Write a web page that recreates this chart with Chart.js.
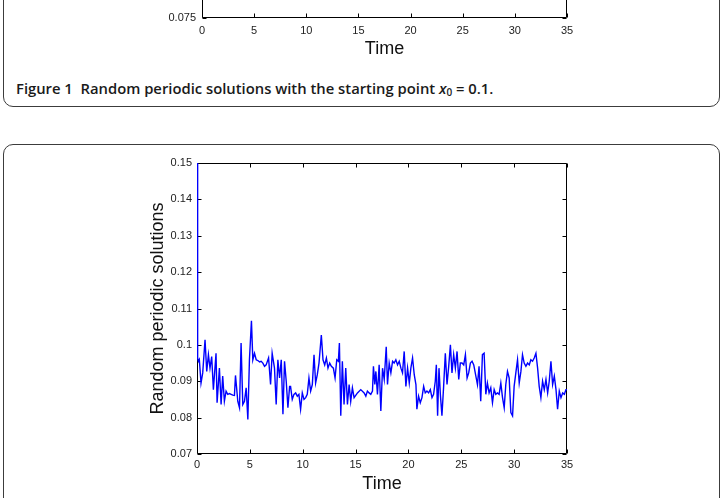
<!DOCTYPE html>
<html>
<head>
<meta charset="utf-8">
<script src="https://cdn.jsdelivr.net/npm/chart.js@4.4.0/dist/chart.umd.min.js"></script>
<style>
html, body { margin: 0; padding: 0; background: #fff; }
body { width: 723px; height: 498px; position: relative; overflow: hidden; }
.panel { position: absolute; left: 3px; width: 715px; border: 1px solid #3c3c3c; border-radius: 10px; }
#panelTop { top: -20px; height: 125px; }
#panelBottom { top: 144px; height: 400px; }
.caption { position: absolute; left: 16px; top: 79px; font-family: 'Open Sans'; font-weight: 600; font-size: 14.8px; line-height: 18px; color: #1a1a1a; white-space: nowrap; }
.caption sub { font-size: 10px; vertical-align: -2px; }
canvas { position: absolute; left: 0; }
#topChart { top: -282px; }
#mainChart { top: 0; }
</style>
</head>
<body>
<div class="panel" id="panelTop"></div>
<div class="panel" id="panelBottom"></div>
<div class="caption">Figure 1&nbsp;&nbsp;Random periodic solutions with the starting point <i>x</i><sub>0</sub> = 0.1.</div>
<canvas id="topChart" width="723" height="400"></canvas>
<canvas id="mainChart" width="723" height="498"></canvas>
<script>
// tick positions and labels
const xTicks = [0, 5, 10, 15, 20, 25, 30, 35]
const xTickLabels = ['0', '5', '10', '15', '20', '25', '30', '35']
const yTicks = [0.07, 0.08, 0.09, 0.1, 0.11, 0.12, 0.13, 0.14, 0.15]
const yTickLabels = ['0.07', '0.08', '0.09', '0.1', '0.11', '0.12', '0.13', '0.14', '0.15']
const topYTicks = [0.075]
const topYTickLabels = ['0.075']

// random periodic solution (starting point 0.15)
const times = [
	0, 0.06, 0.13, 0.22, 0.38, 0.54, 0.76, 0.92, 1.08, 1.23, 1.39, 1.55, 1.80, 1.90, 2.12, 2.28, 2.43, 2.59, 2.75, 2.91,
	3.07, 3.23, 3.39, 3.54, 3.64, 3.86, 4.02, 4.17, 4.33, 4.49, 4.65, 4.81, 4.96, 5.15, 5.28, 5.44, 5.60, 5.76, 5.92, 6.07,
	6.23, 6.39, 6.54, 6.77, 6.96, 7.11, 7.33, 7.49, 7.65, 7.81, 7.97, 8.13, 8.28, 8.44, 8.60, 8.76,
	8.85, 9.01, 9.17, 9.33, 9.49, 9.64, 9.80, 9.96, 10.12, 10.28, 10.43, 10.59, 10.75, 10.91, 11.07, 11.22, 11.38, 11.54, 11.76, 11.92,
	12.08, 12.24, 12.39, 12.55, 12.71, 12.90, 13.06, 13.22, 13.37, 13.47, 13.60, 13.75, 13.91, 14.07, 14.23, 14.39, 14.54, 14.70, 14.86, 15.18,
	15.49, 15.81, 15.97, 16.12, 16.28, 16.44, 16.60, 16.69, 16.82, 16.92, 17.07, 17.23, 17.39, 17.55, 17.71,
	17.90, 18.02, 18.18, 18.34, 18.50, 18.65, 18.81, 18.97, 19.13, 19.29, 19.44, 19.60, 19.76, 19.92, 20.08, 20.23, 20.39, 20.55, 20.71, 20.80,
	20.96, 21.12, 21.28, 21.44, 21.59, 21.75, 21.91, 22.07, 22.23, 22.38, 22.54, 22.64, 22.76, 22.89, 23.02, 23.17, 23.33, 23.49, 23.65, 23.81,
	23.97, 24.12, 24.28, 24.44, 24.60, 24.76, 24.91, 25.07, 25.23, 25.39, 25.55, 25.70, 25.86, 26.02, 26.18,
	26.53, 26.68, 26.84, 27.00, 27.16, 27.32, 27.47, 27.63, 27.79, 27.95, 28.11, 28.26, 28.42, 28.58, 28.74, 28.90, 29.06, 29.21, 29.37, 29.53,
	29.69, 29.85, 30.00, 30.16, 30.32, 30.48, 30.64, 30.79, 30.95, 31.11, 31.27, 31.43, 31.58, 31.74, 31.90, 32.06, 32.22, 32.37, 32.53, 32.69,
	32.85, 33.01, 33.17, 33.32, 33.48, 33.64, 33.80, 33.96, 34.11, 34.27, 34.43, 34.59, 34.75, 34.90, 35
]
const values = [
	0.15, 0.0964, 0.0955, 0.0960, 0.0895, 0.0923, 0.1014, 0.0927, 0.0973, 0.0936, 0.0968, 0.0877, 0.0977, 0.0841, 0.0936, 0.0836, 0.0914, 0.0845, 0.0873, 0.0864,
	0.0866, 0.0864, 0.0862, 0.0861, 0.0916, 0.0845, 0.0827, 0.1005, 0.0836, 0.0845, 0.0882, 0.0795, 0.0959, 0.1066, 0.0959, 0.0977, 0.0959, 0.0957, 0.0953, 0.0955,
	0.0950, 0.0941, 0.0945, 0.0964, 0.0891, 0.0977, 0.0936, 0.0836, 0.0959, 0.0909, 0.0959, 0.0809, 0.0955, 0.0900, 0.0827, 0.0886,
	0.0886, 0.0850, 0.0864, 0.0868, 0.0859, 0.0864, 0.0823, 0.0868, 0.0850, 0.0855, 0.0864, 0.0909, 0.0873, 0.0891, 0.0973, 0.0895, 0.0918, 0.0950, 0.1027, 0.0959,
	0.0945, 0.0964, 0.0936, 0.0950, 0.0941, 0.0936, 0.0909, 0.0959, 0.0955, 0.1005, 0.0805, 0.0955, 0.0836, 0.0936, 0.0836, 0.0891, 0.0845, 0.0882, 0.0855, 0.0868,
	0.0877, 0.0868, 0.0859, 0.0873, 0.0868, 0.0864, 0.0873, 0.0941, 0.0891, 0.0927, 0.0864, 0.0945, 0.0818, 0.0936, 0.0905,
	0.0995, 0.0891, 0.0950, 0.0923, 0.0955, 0.0950, 0.0959, 0.0945, 0.0955, 0.0936, 0.0923, 0.0982, 0.0886, 0.0936, 0.0895, 0.0936, 0.0964, 0.0918, 0.0891, 0.0823,
	0.0859, 0.0841, 0.0855, 0.0886, 0.0868, 0.0873, 0.0868, 0.0877, 0.0855, 0.0864, 0.0900, 0.0945, 0.0805, 0.0936, 0.0864, 0.0805, 0.0886, 0.0977, 0.0891, 0.0941,
	0.1000, 0.0923, 0.0973, 0.0936, 0.0982, 0.0905, 0.0950, 0.0950, 0.0945, 0.0973, 0.0909, 0.0923, 0.0950, 0.0955, 0.0945,
	0.0891, 0.0941, 0.0845, 0.0973, 0.0977, 0.0864, 0.0895, 0.0868, 0.0882, 0.0841, 0.0877, 0.0864, 0.0868, 0.0864, 0.0895, 0.0855, 0.0827, 0.0891, 0.0927, 0.0909,
	0.0814, 0.0805, 0.0886, 0.0923, 0.0959, 0.0895, 0.0927, 0.0973, 0.0950, 0.0941, 0.0950, 0.0945, 0.0959, 0.0955, 0.0964, 0.0977, 0.0936, 0.0886, 0.0855, 0.0900,
	0.0877, 0.0905, 0.0868, 0.0900, 0.0955, 0.0891, 0.0914, 0.0877, 0.0823, 0.0873, 0.0855, 0.0868, 0.0864, 0.0877, 0.0877
]

const tickFont = { family: 'Liberation Sans', size: 11 }
const titleFont = { family: 'Liberation Sans', size: 18 }

// matlab style box with inward ticks
const frameTicks = {
	id: 'frameTicks',
	beforeDatasetsDraw(chart) {
		const { ctx, chartArea: a, scales: { x, y } } = chart
		const l = Math.round(a.left) + 0.5, r = Math.round(a.right) - 0.5
		const t = Math.round(a.top) + 0.5, b = Math.round(a.bottom) - 0.5
		ctx.save()
		ctx.strokeStyle = '#000'
		ctx.lineWidth = 1
		ctx.beginPath()
		ctx.rect(l, t, r - l, b - t)
		x.ticks.forEach(tk => {
			const px = Math.round(x.getPixelForValue(tk.value)) + 0.5
			ctx.moveTo(px, b); ctx.lineTo(px, b - 4)
			ctx.moveTo(px, t); ctx.lineTo(px, t + 4)
		})
		y.ticks.forEach(tk => {
			const py = Math.round(y.getPixelForValue(tk.value)) + 0.5
			ctx.moveTo(l, py); ctx.lineTo(l + 4, py)
			ctx.moveTo(r, py); ctx.lineTo(r - 4, py)
		})
		ctx.stroke()
		ctx.restore()
	}
}

// bottom fragment of the previous figure
new Chart(document.getElementById('topChart'), {
	type: 'line',
	data: { datasets: [] },
	plugins: [frameTicks],
	options: {
		responsive: false,
		animation: false,
		events: [],
		layout: { padding: { left: 142, right: 156, top: 9, bottom: 50 } },
		plugins: { legend: { display: false }, tooltip: { enabled: false } },
		scales: {
			x: {
				type: 'linear', min: 0, max: 35,
				afterBuildTicks: s => { s.ticks = xTicks.map(v => ({ value: v })) },
				afterFit: s => { s.height = 50 },
				grid: { display: false, drawTicks: false },
				border: { display: false },
				ticks: { padding: 6, color: '#222', font: tickFont, maxRotation: 0, callback: (v, i) => xTickLabels[i] },
				title: { display: true, text: 'Time', color: '#111', font: titleFont, padding: { top: 0, bottom: 8 } }
			},
			y: {
				type: 'linear', min: 0.075, max: 0.115,
				afterBuildTicks: s => { s.ticks = topYTicks.map(v => ({ value: v })) },
				afterFit: s => { s.width = 60 },
				grid: { display: false, drawTicks: false },
				border: { display: false },
				ticks: { padding: 6, color: '#222', font: tickFont, callback: (v, i) => topYTickLabels[i] }
			}
		}
	}
})

new Chart(document.getElementById('mainChart'), {
	type: 'line',
	data: {
		datasets: [{
			data: times.map((t, i) => ({ x: t, y: values[i] })),
			borderColor: '#0000ff',
			borderWidth: 1.4,
			pointRadius: 0,
			tension: 0
		}]
	},
	plugins: [frameTicks],
	options: {
		responsive: false,
		animation: false,
		events: [],
		layout: { padding: { left: 137, right: 156, top: 163, bottom: 0 } },
		plugins: { legend: { display: false }, tooltip: { enabled: false } },
		scales: {
			x: {
				type: 'linear', min: 0, max: 35,
				afterBuildTicks: s => { s.ticks = xTicks.map(v => ({ value: v })) },
				afterFit: s => { s.height = 44 },
				grid: { display: false, drawTicks: false },
				border: { display: false },
				ticks: { padding: 4, color: '#222', font: tickFont, maxRotation: 0, callback: (v, i) => xTickLabels[i] },
				title: { display: true, text: 'Time', color: '#111', font: titleFont, padding: { top: 0, bottom: 3 } }
			},
			y: {
				type: 'linear', min: 0.07, max: 0.15,
				afterBuildTicks: s => { s.ticks = yTicks.map(v => ({ value: v })) },
				afterFit: s => { s.width = 60 },
				grid: { display: false, drawTicks: false },
				border: { display: false },
				ticks: { padding: 5, color: '#222', font: tickFont, callback: (v, i) => yTickLabels[i] },
				title: { display: true, text: 'Random periodic solutions', color: '#111', font: titleFont, padding: { top: 10, bottom: 0 } }
			}
		}
	}
})
</script>
</body>
</html>
